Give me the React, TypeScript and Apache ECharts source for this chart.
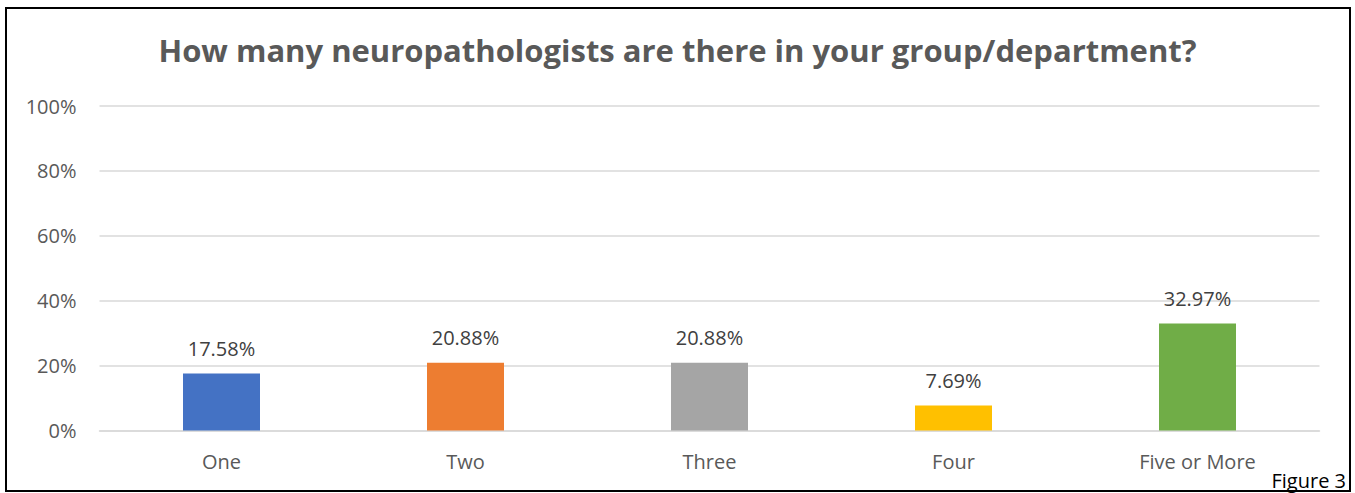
import React, { useEffect, useRef } from "react";
import * as echarts from "echarts";

const categories = ["One", "Two", "Three", "Four", "Five or More"];
const values = [17.58, 20.88, 20.88, 7.69, 32.97];
const barColors = ["#4472C4", "#ED7D31", "#A5A5A5", "#FFC000", "#70AD47"];
const yTicks = [0, 20, 40, 60, 80, 100];
const titleText = "How many neuropathologists are there in your group/department?";
const figureText = "Figure 3";

const FONT = "'Open Sans', 'Noto Sans', sans-serif";

export default function App() {
  const ref = useRef<HTMLDivElement>(null);
  useEffect(() => {
    if (!ref.current) return;
    const chart = echarts.init(ref.current, undefined, { renderer: "svg" });
    chart.setOption({
      animation: false,
      backgroundColor: "#ffffff",
      title: {
        text: titleText,
        left: "center",
        top: 29,
        textStyle: {
          fontFamily: FONT,
          fontSize: 31,
          fontWeight: "bold",
          color: "#595959",
        },
      },
      grid: { left: 99.5, right: 35.5, top: 106, bottom: 62.5, containLabel: false },
      xAxis: {
        type: "category",
        data: categories,
        axisLine: { show: true, lineStyle: { color: "#D9D9D9", width: 1.5 } },
        axisTick: { show: false },
        axisLabel: {
          color: "#595959",
          fontFamily: FONT,
          fontSize: 20,
          margin: 21,
        },
      },
      yAxis: {
        type: "value",
        min: yTicks[0],
        max: yTicks[yTicks.length - 1],
        interval: 20,
        axisLine: { show: false },
        axisTick: { show: false },
        splitLine: { lineStyle: { color: "#D9D9D9", width: 1.5 } },
        axisLabel: {
          color: "#595959",
          fontFamily: FONT,
          fontSize: 20,
          margin: 23,
          formatter: (v: number) => `${v}%`,
        },
      },
      series: [
        {
          type: "bar",
          barWidth: 77,
          data: values.map((v, i) => ({ value: v, itemStyle: { color: barColors[i] } })),
          label: {
            show: true,
            position: "top",
            distance: 15,
            color: "#404040",
            fontFamily: FONT,
            fontSize: 20,
            formatter: (p: any) => `${p.value.toFixed(2)}%`,
          },
        },
      ],
      graphic: [
        {
          type: "rect",
          shape: { x: 6, y: 8, width: 1344, height: 483 },
          style: { fill: "none", stroke: "#000000", lineWidth: 2 },
          silent: true,
        },
        {
          type: "text",
          right: 9,
          bottom: 3,
          style: {
            text: figureText,
            fill: "#000000",
            font: `20px ${FONT}`,
          },
        },
      ],
    });
    return () => chart.dispose();
  }, []);
  return (
    <div
      ref={ref}
      style={{ position: "absolute", left: 0, top: 0, width: 1355, height: 493 }}
    />
  );
}
